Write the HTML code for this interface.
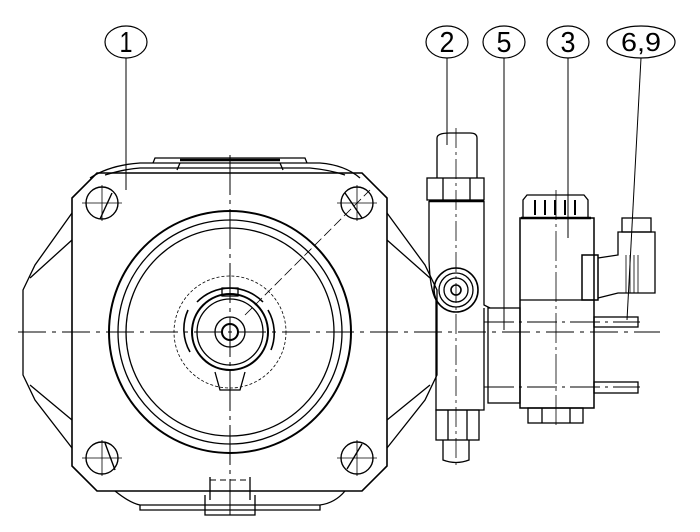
<!DOCTYPE html><html><head><style>body{margin:0;background:#fff}svg{display:block}text{font-family:"Liberation Sans",sans-serif}</style></head><body>
<svg width="700" height="532" viewBox="0 0 700 532" xmlns="http://www.w3.org/2000/svg" fill="none" stroke="#000" stroke-width="1.3">
<g stroke-width="1.2">
<ellipse cx="126" cy="42" rx="21" ry="16"/><ellipse cx="447" cy="42" rx="21" ry="16"/><ellipse cx="504" cy="42" rx="21" ry="16"/><ellipse cx="568" cy="42" rx="21" ry="16"/><ellipse cx="641" cy="42" rx="34" ry="16"/>
</g>
<g fill="#000" stroke="none" font-size="29" text-anchor="middle">
<text x="126" y="52" textLength="13" lengthAdjust="spacingAndGlyphs">1</text>
<text x="447" y="52" textLength="15" lengthAdjust="spacingAndGlyphs">2</text>
<text x="504" y="52" textLength="15" lengthAdjust="spacingAndGlyphs">5</text>
<text x="568" y="52" textLength="15" lengthAdjust="spacingAndGlyphs">3</text>
<text x="641" y="51" font-size="26" textLength="40" lengthAdjust="spacingAndGlyphs">6,9</text>
</g>
<g stroke-width="1">
<line x1="126" y1="58" x2="126" y2="190"/><line x1="447" y1="58" x2="447" y2="145"/><line x1="504" y1="58" x2="504" y2="330"/><line x1="568" y1="58" x2="568" y2="238"/><line x1="641" y1="58" x2="627" y2="320"/>
</g>
<path d="M72,213 L35,265 L23,290 L23,375 L35,400 L72,448"/>
<path d="M72,240 L30,278 M72,420 L30,385"/>
<path d="M387,213 L425,265 L437,290 L437,375 L425,400 L387,448"/>
<path d="M387,240 L430,278 M387,420 L430,385"/>
<path d="M90,178 Q110,165 140,163 L320,163 Q345,165 360,178"/>
<path d="M105,175 Q125,169 140,168 L310,168 Q330,170 345,175"/>
<path d="M153,163 L155,158 L305,158 L307,163 M180,163 L177,170 M280,163 L283,170"/>
<line x1="180" y1="160" x2="280" y2="160" stroke-width="2.5"/>
<path d="M115,491 Q130,503 140,505 L320,505 Q335,503 345,491"/>
<path d="M140,505 L140,510 L320,510 L320,505 M205,495 L205,515 L255,515 L255,495"/>
<line x1="210" y1="477" x2="210" y2="500"/><line x1="250" y1="477" x2="250" y2="500"/>
<line x1="210" y1="480" x2="250" y2="480" stroke-dasharray="6,4" stroke-width="1"/>
<path d="M97,173 L362,173 L387,198 L387,466 L362,491 L97,491 L72,466 L72,198 Z" stroke-width="1.6"/>
<g stroke-width="1.4">
<circle cx="102" cy="203" r="16"/><line x1="112" y1="193" x2="100" y2="219"/>
<circle cx="357" cy="203" r="16"/><line x1="345" y1="193" x2="362" y2="218"/>
<circle cx="102" cy="458" r="16"/><line x1="105" y1="443" x2="115" y2="470"/>
<circle cx="357" cy="458" r="16"/><line x1="347" y1="469" x2="362" y2="444"/>
</g>
<g stroke-width="0.8">
<line x1="82" y1="203" x2="122" y2="203"/><line x1="102" y1="185" x2="102" y2="221"/>
<line x1="337" y1="203" x2="377" y2="203"/><line x1="357" y1="185" x2="357" y2="221"/>
<line x1="82" y1="458" x2="122" y2="458"/><line x1="102" y1="440" x2="102" y2="476"/>
<line x1="337" y1="458" x2="377" y2="458"/><line x1="357" y1="440" x2="357" y2="476"/>
</g>
<circle cx="230" cy="332" r="121" stroke-width="2"/>
<circle cx="230" cy="332" r="112"/>
<circle cx="230" cy="332" r="104"/>
<circle cx="230" cy="332" r="56" stroke-dasharray="3,2" stroke-width="0.8"/>
<path d="M197,302 A46,46 0 0 1 263,302 M268,310 A46,46 0 0 1 271,350 M190,352 A46,46 0 0 1 188,310" stroke-width="1.6"/>
<circle cx="230" cy="332" r="38" stroke-width="2"/>
<circle cx="230" cy="332" r="33"/>
<circle cx="230" cy="332" r="15"/>
<circle cx="230" cy="332" r="8" stroke-width="2"/>
<path d="M215,372 L220,390 L240,390 L245,372"/>
<rect x="222" y="288" width="16" height="8"/>
<line x1="245" y1="315" x2="370" y2="190" stroke-dasharray="10,4" stroke-width="0.8"/>
<line x1="18" y1="332" x2="660" y2="332" stroke-dasharray="28,6,4,6" stroke-width="1"/>
<line x1="230" y1="155" x2="230" y2="515" stroke-dasharray="40,5,4,5" stroke-width="1"/>
<path d="M437,178 L437,138 Q437,133 450,133 L470,133 Q477,133 477,138 L477,178"/>
<rect x="427" y="178" width="57" height="22"/>
<line x1="443" y1="178" x2="443" y2="200"/><line x1="470" y1="178" x2="470" y2="200"/>
<line x1="429" y1="201" x2="484" y2="201" stroke-width="2.5"/>
<path d="M429,201 L429,260 M484,201 L484,305 L490,308 M436,300 L436,410 L484,410 L484,308"/>
<path d="M429,260 Q430,290 436,300"/>
<rect x="436" y="410" width="43" height="30"/>
<line x1="448" y1="410" x2="448" y2="440"/><line x1="467" y1="410" x2="467" y2="440"/>
<path d="M443,440 L443,460 Q456,465 469,460 L469,440"/>
<circle cx="456" cy="290" r="22" stroke-width="1.6"/><circle cx="456" cy="290" r="17"/><circle cx="456" cy="290" r="12"/><circle cx="456" cy="290" r="5" stroke-width="1.6"/>
<line x1="456" y1="128" x2="456" y2="468" stroke-dasharray="20,4,3,4" stroke-width="0.8"/>
<rect x="488" y="308" width="32" height="95"/>
<line x1="484" y1="322" x2="640" y2="322" stroke-width="0.9" stroke-dasharray="30,5,3,5"/>
<line x1="484" y1="387" x2="640" y2="387" stroke-width="0.9" stroke-dasharray="30,5,3,5"/>
<rect x="520" y="218" width="74" height="190" stroke-width="1.5"/>
<line x1="520" y1="300" x2="594" y2="300"/>
<path d="M523,218 L523,200 L527,195 L584,195 L588,200 L588,218"/>
<line x1="521" y1="218" x2="591" y2="218" stroke-width="2.5"/>
<path d="M535,200 L535,215 M545,200 L545,215 M555,200 L555,215 M565,200 L565,215 M575,200 L575,215" stroke-width="2"/>
<rect x="528" y="408" width="55" height="15"/>
<line x1="542" y1="408" x2="542" y2="423"/><line x1="570" y1="408" x2="570" y2="423"/>
<line x1="556" y1="190" x2="556" y2="427" stroke-dasharray="30,4,3,4" stroke-width="0.8"/>
<rect x="582" y="255" width="16" height="45" stroke-width="1.5"/>
<path d="M598,258 L618,255 L618,232 L655,232 L655,293 L618,293 L598,298"/>
<rect x="622" y="218" width="29" height="14"/>
<path d="M626,255 L626,293 M630,255 L630,293 M634,255 L634,293 M638,255 L638,293" stroke-width="0.8"/>
<rect x="594" y="317" width="44" height="10"/>
<rect x="594" y="382" width="44" height="11"/>
</svg>
</body></html>
